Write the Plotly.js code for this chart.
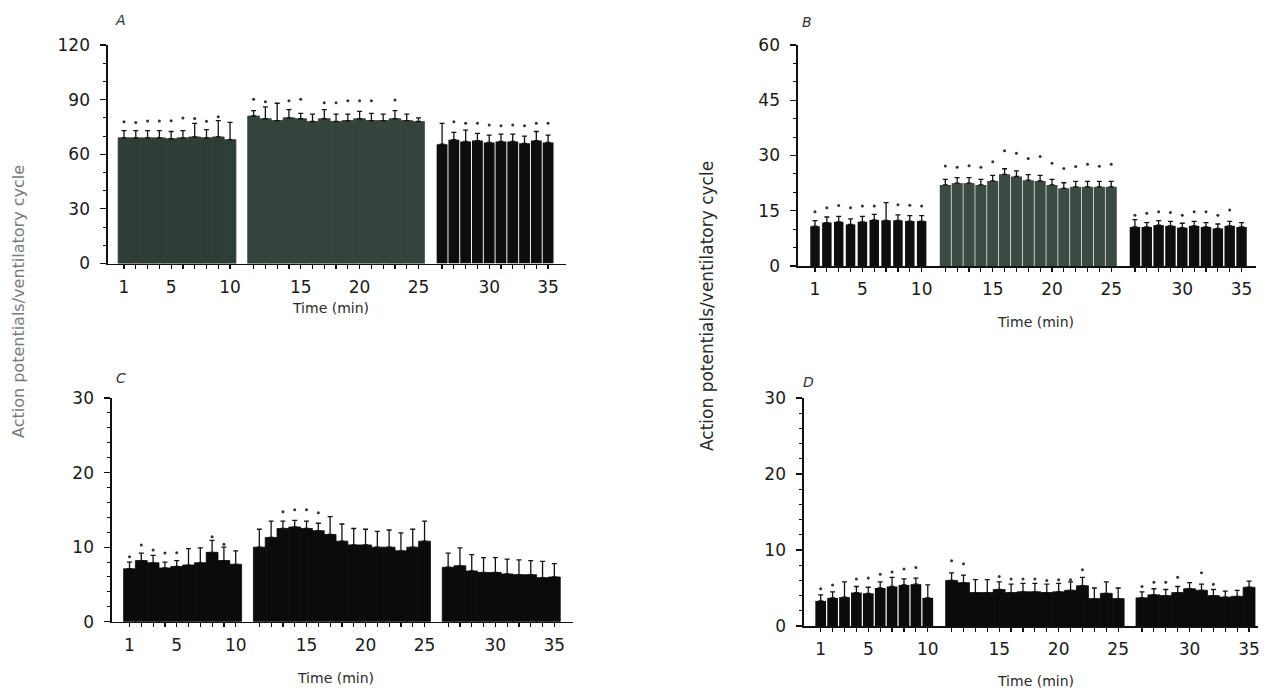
<!DOCTYPE html>
<html><head><meta charset="utf-8">
<script src="https://cdn.plot.ly/plotly-3.0.1.min.js"></script>
<style>html,body{margin:0;padding:0;background:#fff;}#chart{width:1271px;height:691px;}</style>
</head><body><div id="chart"></div>
<script>
// ---- data ----
const time = [1,2,3,4,5,6,7,8,9,10,11,12,13,14,15,16,17,18,19,20,21,22,23,24,25,26,27,28,29,30,31,32,33,34,35];
const tickTimes = [1,5,10,15,20,25,30,35];

// Panel A
const meanA = [69,69,69,69,68.5,69,69.5,69,69.5,68,
               81,79.5,78.5,80,79.5,78,79.5,78,78.5,79.5,78.5,78.5,79.5,78.5,78,
               65.5,68,67,67.5,66.5,67,67,66,67.5,66.5];
const errA  = [4,4,4,4,4,4,7.5,4.5,9,9.5,
               3,6.5,9.5,4.5,3,4,5,4,3.5,4,4,3.5,4.5,3.5,2,
               11.5,4,6.3,4,4,4,4,4,5,4];
const sigA  = [77.9,77.5,78.3,78.3,78.4,79.9,79.7,78.1,80.6,null,
               90.2,88.9,null,89.4,90.2,null,88.3,88.3,89.4,89.4,89.4,null,89.8,null,null,
               null,77.9,77,77,76.1,75.7,76.1,75.7,77,77];

// Panel B
const meanB = [10.8,11.8,12,11.3,12,12.5,12.4,12.4,12.2,12.2,
               22,22.5,22.5,22,23.1,24.9,24.3,23.3,23.1,22,21.1,21.5,21.5,21.5,21.5,
               10.6,10.6,11.1,10.9,10.4,10.9,10.6,10.2,10.9,10.6];
const errB  = [1.5,1.5,1.5,1.5,1.5,1.5,4.8,1.5,1.5,1.5,
               1.5,1.5,1.5,1.5,1.5,1.5,1.5,1.5,1.5,1.5,1.5,1.5,1.5,1.5,1.5,
               2,1.2,1.2,1.2,1.2,1.2,1.2,1.2,1.2,1.2];
const sigB  = [14.7,15.8,16.4,15.8,16.3,16.3,null,16.6,16.5,16.3,
               27.15,26.8,27.2,26.8,28.3,31.3,30.6,29.2,29.7,27.9,26.5,27,27.6,27.1,27.6,
               13.8,14.3,14.7,14.5,13.8,14.7,14.7,13.8,15.2,null];

// Panel C
const meanC = [7.1,8.2,7.9,7.2,7.4,7.6,7.9,9.3,8.2,7.7,
               10.0,11.3,12.5,12.7,12.5,12.2,11.7,10.8,10.3,10.3,10.0,10.0,9.5,10.0,10.8,
               7.3,7.5,6.8,6.6,6.6,6.4,6.3,6.3,5.9,6.0];
const errC  = [0.9,1,1,0.8,0.8,2.2,2.0,1.6,1.8,1.8,
               2.4,2.2,1.0,0.9,1.0,1.0,2.4,2.3,2.2,2.1,2.1,2.3,2.4,2.4,2.7,
               1.9,2.4,2.2,2.0,2.0,2.0,2.0,1.9,2.2,1.8];
const sigC  = [8.7,10.3,9.6,9.2,9.25,null,null,11.4,10.4,null,
               null,null,14.75,15,15,14.6,null,null,null,null,null,null,null,null,null,
               null,null,null,null,null,null,null,null,null,null];

// Panel D
const meanD = [3.3,3.7,3.8,4.4,4.3,5.0,5.2,5.4,5.5,3.7,
               6.0,5.7,4.4,4.4,4.8,4.4,4.5,4.5,4.4,4.5,4.7,5.3,3.6,4.3,3.6,
               3.7,4.1,4.0,4.4,4.9,4.7,4.0,3.8,3.9,5.1];
const errD  = [0.8,0.8,2.0,0.8,0.8,0.8,1.2,0.8,0.8,1.7,
               1.0,1.0,1.7,1.7,1.0,1.1,1.1,1.1,1.1,1.1,1.1,1.1,1.4,1.5,1.4,
               0.8,0.8,0.8,0.8,0.8,0.8,0.8,0.8,0.8,0.8];
const sigD  = [4.9,5.4,null,6.2,6.3,6.8,7.1,7.5,7.7,null,
               8.6,8.2,null,null,6.5,6.2,6.2,6.2,6.0,6.1,6.1,7.4,null,null,null,
               5.2,5.75,5.75,6.4,null,7.0,5.5,null,null,null];

// ---- helpers ----
function blockOf(t){ return t<=10 ? 0 : (t<=25 ? 1 : 2); }
function pos(t){ return t + blockOf(t); }   // one empty slot between the three periods
const xpos = time.map(pos);

const panels = [
  {mean:meanA, err:errA, sig:sigA, ax:'', colors:['#2f3d37','#34433c','#0e0e0e'], widths:[1,1,0.92],
   xdom:[108,566], xr:[-0.36,38.52], ytop:45, ybot:263.5, ymax:120, dtick:30, minor:10},
  {mean:meanB, err:errB, sig:sigB, ax:'2', colors:['#0e0e0e','#3b4a43','#0e0e0e'], widths:[0.8,0.94,0.88],
   xdom:[798,1256], xr:[-0.435,38.22], ytop:45, ybot:266, ymax:60, dtick:15, minor:5},
  {mean:meanC, err:errC, sig:sigC, ax:'3', colors:['#0b0b0b','#0b0b0b','#0b0b0b'], widths:[1,1,1],
   xdom:[112,573], xr:[-0.483,38.58], ytop:398, ybot:621.7, ymax:30, dtick:10, minor:2},
  {mean:meanD, err:errD, sig:sigD, ax:'4', colors:['#0b0b0b','#0b0b0b','#0b0b0b'], widths:[0.9,1,1],
   xdom:[804,1258], xr:[-0.403,37.75], ytop:398, ybot:626, ymax:30, dtick:10, minor:2}
];

const W = 1271, H = 691;
const tickFont = {family:'DejaVu Sans, sans-serif', size:17, color:'#1a1a1a'};
const traces = [];
const layout = {
  width:W, height:H, margin:{l:0,r:0,t:0,b:0},
  paper_bgcolor:'#ffffff', plot_bgcolor:'rgba(0,0,0,0)',
  showlegend:false, annotations:[]
};

panels.forEach(p => {
  const cols = time.map(t => p.colors[blockOf(t)]);
  const wds = time.map(t => p.widths[blockOf(t)]);
  traces.push({
    type:'bar', x:xpos, y:p.mean, width:wds,
    marker:{color:cols, line:{width:wds.map(w => w>=1 ? 0.8 : 0), color:cols}},
    error_y:{type:'data', symmetric:false, array:p.err, arrayminus:time.map(()=>0),
             color:'#111', thickness:1.3, width:2.5},
    xaxis:'x'+p.ax, yaxis:'y'+p.ax, hoverinfo:'skip'
  });
  traces.push({
    type:'scatter', mode:'markers', x:xpos, y:p.sig,
    marker:{color:'#333', size:3, symbol:'circle'},
    xaxis:'x'+p.ax, yaxis:'y'+p.ax, hoverinfo:'skip'
  });
  layout['xaxis'+p.ax] = {
    domain:[p.xdom[0]/W, p.xdom[1]/W], range:p.xr, anchor:'y'+p.ax,
    showline:true, linecolor:'#111', linewidth:1.6,
    ticks:'outside', ticklen:4, tickwidth:1.2, tickcolor:'#111',
    tickmode:'array', tickvals:xpos,
    ticktext: time.map(t => tickTimes.includes(t) ? String(t) : ''),
    tickfont:tickFont, ticklabelstandoff:3,
    showgrid:false, zeroline:false, fixedrange:true
  };
  layout['yaxis'+p.ax] = {
    domain:[1-p.ybot/H, 1-p.ytop/H], range:[0,p.ymax], anchor:'x'+p.ax,
    showline:true, linecolor:'#111', linewidth:1.6,
    ticks:'outside', ticklen:6, tickwidth:1.2, tickcolor:'#111',
    tick0:0, dtick:p.dtick,
    minor:{dtick:p.minor, tick0:0, ticks:'outside', ticklen:3, tickcolor:'#111', tickwidth:1},
    tickfont:tickFont, ticklabelstandoff:7,
    showgrid:false, zeroline:false, fixedrange:true
  };
});

function ann(text, xpx, ypx, opts){
  return Object.assign({text, x:xpx/W, y:1-ypx/H, xref:'paper', yref:'paper',
    showarrow:false, xanchor:'center', yanchor:'middle',
    font:{family:'DejaVu Sans, sans-serif', size:14, color:'#222'}}, opts||{});
}
const panelLetters = ['A','B','C','D'];
const letterPos = [[120,20],[807,22],[121,378],[808,382]];
panelLetters.forEach((L,i) => layout.annotations.push(
  ann('<i>'+L+'</i>', letterPos[i][0], letterPos[i][1], {font:{family:'DejaVu Sans, sans-serif', size:14, color:'#333'}})));

const xTitle = 'Time (min)';
const xTitlePos = [[330,308],[1035,322],[335,678],[1035,681]];
xTitlePos.forEach(q => layout.annotations.push(ann(xTitle, q[0], q[1], {font:{family:'DejaVu Sans, sans-serif', size:14, color:'#2a2a2a'}})));

const yTitle = 'Action potentials/ventilatory cycle';
layout.annotations.push(ann(yTitle, 18, 302, {textangle:-90, font:{family:'DejaVu Sans, sans-serif', size:16, color:'#7a7a7a'}}));
layout.annotations.push(ann(yTitle, 707, 306, {textangle:-90, font:{family:'DejaVu Sans, sans-serif', size:17, color:'#2a2a2a'}}));

Plotly.newPlot('chart', traces, layout, {staticPlot:true, displayModeBar:false});
</script>
</body></html>
